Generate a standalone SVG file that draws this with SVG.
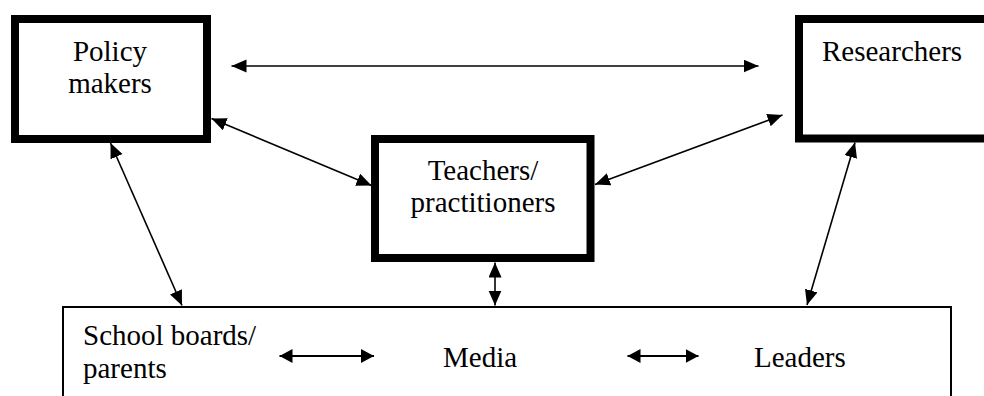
<svg xmlns="http://www.w3.org/2000/svg" width="984" height="396" viewBox="0 0 984 396">
<style>
.box{fill:#fff;stroke:#000;stroke-width:8}
.thin{fill:#fff;stroke:#000;stroke-width:2}
.c{stroke:#000;stroke-width:1.6;fill:none;marker-start:url(#ah);marker-end:url(#ah)}
.c2{stroke:#000;stroke-width:2.2;fill:none;marker-start:url(#ah2);marker-end:url(#ah2)}
</style>
<defs>
<marker id="ah" markerUnits="userSpaceOnUse" markerWidth="16" markerHeight="14" refX="15" refY="6.5" orient="auto-start-reverse">
<path d="M0,0 L15,6.5 L0,13 z" fill="#000"/>
</marker>
<marker id="ah2" markerUnits="userSpaceOnUse" markerWidth="14" markerHeight="14" refX="13" refY="7" orient="auto-start-reverse">
<path d="M0,0 L13,7 L0,14 z" fill="#000"/>
</marker>
</defs>
<rect width="984" height="396" fill="#fff"/>
<g id="bottom">
<rect class="thin" x="63" y="307" width="888" height="110"/>
</g>
<g font-family="'Liberation Serif', 'Times New Roman', 'DejaVu Serif', serif" font-size="29" fill="#000">
<g id="policy">
<rect class="box" x="15" y="19" width="192" height="120"/>
<text x="110" y="61" text-anchor="middle">Policy</text>
<text x="110" y="93" text-anchor="middle">makers</text>
</g>
<g id="researchers">
<rect class="box" x="799" y="19" width="200" height="119.5"/>
<text x="822" y="61">Researchers</text>
</g>
<g id="teachers">
<rect class="box" x="375" y="139" width="215.5" height="119"/>
<text x="483" y="180" text-anchor="middle">Teachers/</text>
<text x="483" y="212" text-anchor="middle">practitioners</text>
</g>
<g id="school">
<text x="83" y="345">School boards/</text>
<text x="83" y="378">parents</text>
</g>
<g id="media">
<text x="443" y="367">Media</text>
</g>
<g id="leaders">
<text x="754" y="367">Leaders</text>
</g>
</g>
<g id="connectors">
<line class="c" x1="231.5" y1="66" x2="758.5" y2="66"/>
<line class="c" x1="211.5" y1="118.5" x2="371.5" y2="185.5"/>
<line class="c" x1="595" y1="184.5" x2="782.5" y2="115"/>
<line class="c" x1="110.5" y1="143" x2="182" y2="305.5"/>
<line class="c" x1="855" y1="142.5" x2="807" y2="305"/>
<line class="c" x1="495" y1="262.5" x2="495" y2="305.5"/>
<line class="c2" x1="279.5" y1="356" x2="374" y2="356"/>
<line class="c2" x1="627.5" y1="356" x2="698.5" y2="356"/>
</g>
</svg>
